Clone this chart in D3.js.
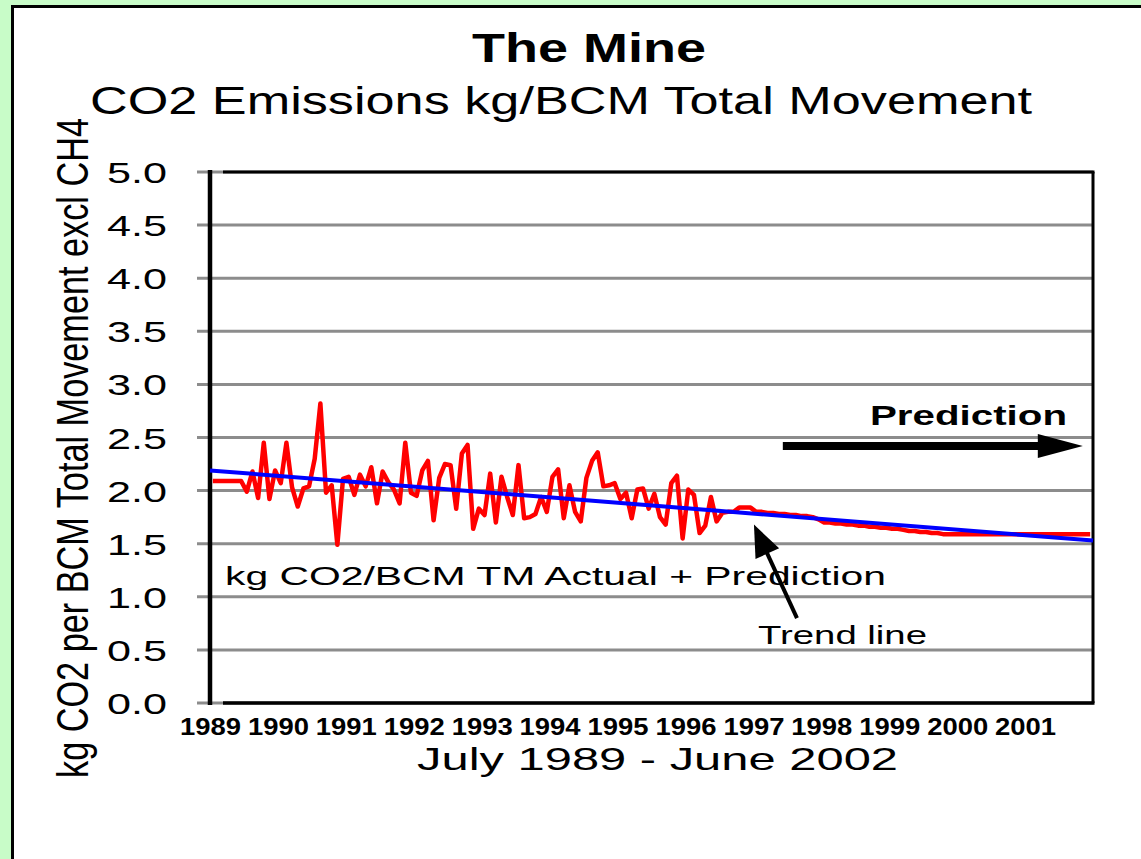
<!DOCTYPE html>
<html>
<head>
<meta charset="utf-8">
<script src="https://cdn.jsdelivr.net/npm/d3@7/dist/d3.min.js"></script>
<style>
  html, body { margin: 0; padding: 0; background: #c8fcc8; }
  svg { display: block; }
  text { font-family: "Liberation Sans", Arial, sans-serif; fill: #000; }
</style>
</head>
<body>
<svg id="chart" width="1141" height="859"></svg>
<script>
// ---------------- DATA ----------------
const titleText = "The Mine";
const subtitleText = "CO2 Emissions kg/BCM Total Movement";
const yTitleText = "kg CO2 per BCM Total Movement excl CH4";
const xTitleText = "July 1989 - June 2002";
const seriesLabel = "kg CO2/BCM TM Actual + Prediction";
const trendLabel = "Trend line";
const predictionLabel = "Prediction";

// monthly values, July 1989 onward (actual part)
const actualValues = [
  2.09, 2.09, 2.09, 2.09, 2.09, 2.09, 1.99, 2.18, 1.93, 2.45,
  1.92, 2.19, 2.07, 2.45, 2.03, 1.85, 2.02, 2.04, 2.30, 2.82,
  1.98, 2.05, 1.49, 2.11, 2.13, 1.96, 2.15, 2.04, 2.22, 1.88,
  2.18, 2.08, 2.01, 1.88, 2.45, 1.98, 1.95, 2.19, 2.28, 1.72,
  2.12, 2.25, 2.24, 1.83, 2.35, 2.43, 1.64, 1.83, 1.77, 2.16,
  1.70, 2.13, 1.94, 1.77, 2.24, 1.74, 1.75, 1.78, 1.94, 1.80,
  2.13, 2.20, 1.74, 2.05, 1.80, 1.71, 2.12, 2.28, 2.36, 2.04,
  2.05, 2.07, 1.92, 1.98, 1.74, 2.01, 2.02, 1.83, 1.97, 1.75,
  1.68, 2.07, 2.14, 1.55, 2.01, 1.96, 1.60, 1.67, 1.94, 1.71,
  1.79, 1.80, 1.80, 1.84, 1.84, 1.84, 1.80
];
// monthly values, prediction part (to June 2002)
const predictionValues = [
  1.80, 1.79, 1.79, 1.78, 1.78, 1.77, 1.77, 1.76, 1.76, 1.75,
  1.73, 1.70, 1.70, 1.69, 1.69, 1.68, 1.68, 1.67, 1.67, 1.66,
  1.66, 1.65, 1.65, 1.64, 1.64, 1.63, 1.62, 1.62, 1.61, 1.61,
  1.60, 1.60, 1.59, 1.59, 1.59, 1.59, 1.59, 1.59, 1.59, 1.59,
  1.59, 1.59, 1.59, 1.59, 1.59, 1.59, 1.59, 1.59, 1.59, 1.59,
  1.59, 1.59, 1.59, 1.59, 1.59, 1.59, 1.59, 1.59, 1.59
];
// linear trend line end values (start of axis, end of axis)
const trendValues = [2.19, 1.53];

const xTickLabels = ["1989","1990","1991","1992","1993","1994","1995","1996","1997","1998","1999","2000","2001"];
const yTickValues = [0, 0.5, 1, 1.5, 2, 2.5, 3, 3.5, 4, 4.5, 5];

// annotation anchor points in data space [monthIndex, value]
const predictionArrow = [[101.2, 2.42], [154.2, 2.42]];
const trendArrow = [[103.7, 0.80], [96.1, 1.68]];

// ---------------- CHART ----------------
const series = actualValues.concat(predictionValues);
const nMonths = series.length;

const svg = d3.select("#chart");
const W = 1141, H = 859;

// background frame
svg.append("rect").attr("x", 0).attr("y", 0).attr("width", W).attr("height", H).attr("fill", "#c8fcc8");
svg.append("rect").attr("x", 12.5).attr("y", 6.5).attr("width", 1200).attr("height", 1000)
  .attr("fill", "#ffffff").attr("stroke", "#000").attr("stroke-width", 3);

const plot = { left: 210, right: 1093, top: 172, bottom: 703 };

const x = d3.scaleLinear().domain([0, nMonths]).range([plot.left, plot.right]);
const y = d3.scaleLinear().domain([0, 5]).range([plot.bottom, plot.top]);

// gridlines (extend left as tick marks)
svg.append("g").selectAll("line").data(yTickValues).join("line")
  .attr("x1", plot.left - 13).attr("x2", plot.right)
  .attr("y1", d => y(d)).attr("y2", d => y(d))
  .attr("stroke", "#8c8c8c").attr("stroke-width", 3);

// plot frame (top, right, bottom black)
svg.append("line").attr("x1", plot.left + 13).attr("x2", plot.right + 1.5)
  .attr("y1", plot.top).attr("y2", plot.top).attr("stroke", "#000").attr("stroke-width", 3);
svg.append("line").attr("x1", plot.right).attr("x2", plot.right)
  .attr("y1", plot.top).attr("y2", plot.bottom).attr("stroke", "#000").attr("stroke-width", 3);
svg.append("line").attr("x1", plot.left + 13).attr("x2", plot.right + 1.5)
  .attr("y1", plot.bottom).attr("y2", plot.bottom).attr("stroke", "#000").attr("stroke-width", 3.5);

// y axis labels
const yAxis = d3.axisLeft(y).tickValues(yTickValues).tickFormat(d3.format(".1f")).tickSize(0).tickPadding(43);
const yg = svg.append("g").attr("transform", `translate(${plot.left},0)`).call(yAxis);
yg.select(".domain").remove();
yg.selectAll("text")
  .attr("font-size", 30).attr("dy", "0.35em")
  .attr("textLength", 60).attr("lengthAdjust", "spacingAndGlyphs")
  .style("font-family", "'Liberation Sans', Arial, sans-serif");

// x axis labels
const xTickVals = xTickLabels.map((d, i) => i * 12);
const xAxis = d3.axisBottom(x).tickValues(xTickVals).tickFormat((d, i) => xTickLabels[i]).tickSize(0).tickPadding(0);
const xg = svg.append("g").attr("transform", `translate(0,${plot.bottom})`).call(xAxis);
xg.select(".domain").remove();
xg.selectAll("text")
  .attr("y", 32).attr("dy", 0)
  .attr("font-size", 24).attr("font-weight", "bold")
  .attr("textLength", 61).attr("lengthAdjust", "spacingAndGlyphs")
  .style("font-family", "'Liberation Sans', Arial, sans-serif");

// left axis line (black)
svg.append("line").attr("x1", plot.left).attr("x2", plot.left)
  .attr("y1", plot.top - 2).attr("y2", plot.bottom + 2)
  .attr("stroke", "#000").attr("stroke-width", 4.5);

// data line
const line = d3.line().x((d, i) => x(i + 0.5)).y(d => y(d));
svg.append("path").datum(series)
  .attr("d", line).attr("fill", "none")
  .attr("stroke", "#ff0000").attr("stroke-width", 4.5).attr("stroke-linejoin", "round");

// trend line
svg.append("line")
  .attr("x1", x(0)).attr("y1", y(trendValues[0]))
  .attr("x2", x(nMonths)).attr("y2", y(trendValues[1]))
  .attr("stroke", "#0000ff").attr("stroke-width", 4);

// titles
svg.append("text").attr("x", 472).attr("y", 62)
  .attr("font-size", 40).attr("font-weight", "bold")
  .attr("textLength", 234).attr("lengthAdjust", "spacingAndGlyphs")
  .text(titleText);
svg.append("text").attr("x", 90).attr("y", 114)
  .attr("font-size", 39)
  .attr("textLength", 942).attr("lengthAdjust", "spacingAndGlyphs")
  .text(subtitleText);

// y title
svg.append("text")
  .attr("transform", "translate(88,448) scale(1.3,1) rotate(-90)")
  .attr("text-anchor", "middle").attr("font-size", 34)
  .attr("textLength", 660).attr("lengthAdjust", "spacingAndGlyphs")
  .text(yTitleText);

// x title
svg.append("text").attr("x", 417).attr("y", 770)
  .attr("font-size", 32)
  .attr("textLength", 481).attr("lengthAdjust", "spacingAndGlyphs")
  .text(xTitleText);

// series label
svg.append("text").attr("x", 225).attr("y", 585)
  .attr("font-size", 26)
  .attr("textLength", 661).attr("lengthAdjust", "spacingAndGlyphs")
  .text(seriesLabel);

// trend label
svg.append("text").attr("x", 758).attr("y", 644)
  .attr("font-size", 26)
  .attr("textLength", 169).attr("lengthAdjust", "spacingAndGlyphs")
  .text(trendLabel);

// prediction label
svg.append("text").attr("x", 870).attr("y", 425)
  .attr("font-size", 28).attr("font-weight", "bold")
  .attr("textLength", 197).attr("lengthAdjust", "spacingAndGlyphs")
  .text(predictionLabel);

// arrows
function drawArrow(p0, p1, width, headLen, headHalf) {
  const x0 = x(p0[0]), y0 = y(p0[1]), x1 = x(p1[0]), y1 = y(p1[1]);
  const dx = x1 - x0, dy = y1 - y0, len = Math.hypot(dx, dy);
  const ux = dx / len, uy = dy / len, px = -uy, py = ux;
  const bx = x1 - ux * headLen, by = y1 - uy * headLen;
  svg.append("line").attr("x1", x0).attr("y1", y0).attr("x2", bx + ux * 2).attr("y2", by + uy * 2)
    .attr("stroke", "#000").attr("stroke-width", width);
  svg.append("path")
    .attr("d", `M${x1},${y1}L${bx + px * headHalf},${by + py * headHalf}L${bx - px * headHalf},${by - py * headHalf}Z`)
    .attr("fill", "#000");
}
drawArrow(predictionArrow[0], predictionArrow[1], 8, 45, 12);
drawArrow(trendArrow[0], trendArrow[1], 4, 32, 13);
</script>
</body>
</html>
